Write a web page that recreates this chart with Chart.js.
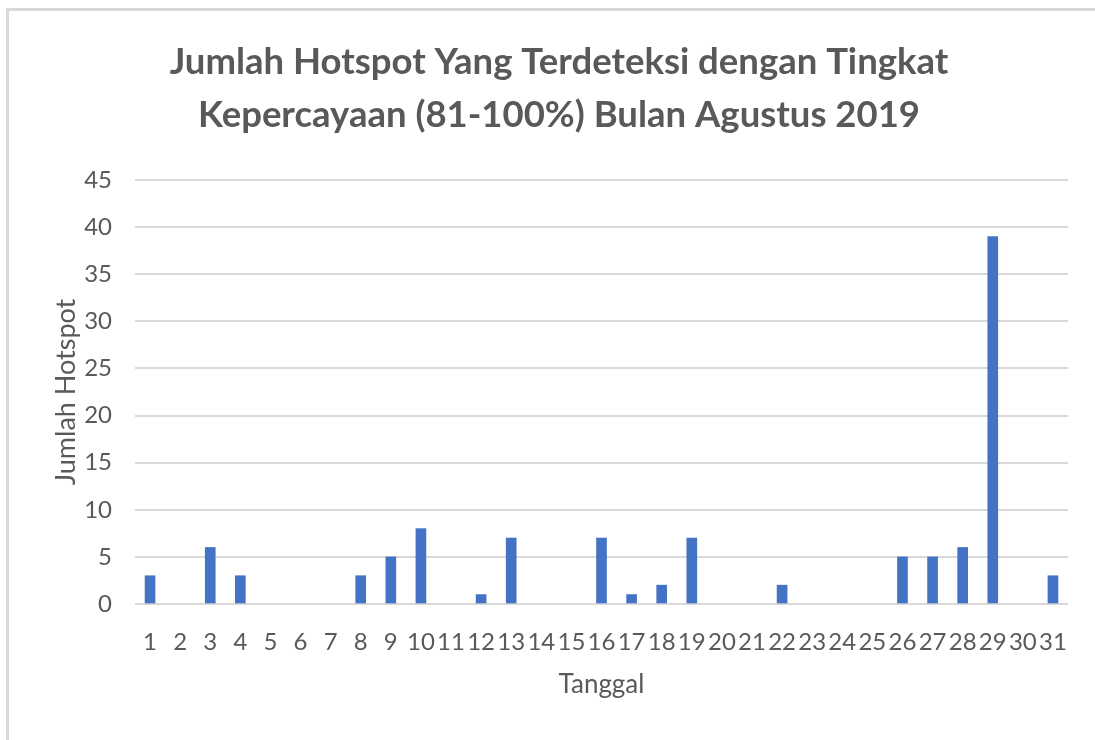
<!DOCTYPE html>
<html>
<head>
<meta charset="utf-8">
<script src="https://cdn.jsdelivr.net/npm/chart.js@4.4.1/dist/chart.umd.min.js"></script>
<style>
  html, body { margin: 0; padding: 0; background: #fff; overflow: hidden; }
  #wrap { position: relative; width: 1095px; height: 740px; }
  #frame { position: absolute; left: 6px; top: 8px; width: 1100px; height: 740px;
           border-left: 3px solid #d9d9d9; border-top: 3px solid #d9d9d9; box-sizing: border-box; }
  canvas { position: absolute; left: 0; top: 0; }
</style>
</head>
<body>
<div id="wrap">
  <div id="frame"></div>
  <canvas id="c" width="1095" height="740"></canvas>
</div>
<script>
const categories = ['1','2','3','4','5','6','7','8','9','10','11','12','13','14','15','16','17','18','19','20','21','22','23','24','25','26','27','28','29','30','31'];
const hotspotValues = [3,0,6,3,0,0,0,3,5,8,0,1,7,0,0,7,1,2,7,0,0,2,0,0,0,5,5,6,39,0,3];
const titleLines = ['Jumlah Hotspot Yang Terdeteksi dengan Tingkat', 'Kepercayaan (81-100%) Bulan Agustus 2019'];
const yAxisTitle = 'Jumlah Hotspot';
const xAxisTitle = 'Tanggal';

const grey = '#595959';
const FONT = 'Lato, "Open Sans", sans-serif';

new Chart(document.getElementById('c'), {
  type: 'bar',
  data: {
    labels: categories,
    datasets: [{
      data: hotspotValues,
      backgroundColor: (ctx) => (ctx.raw === 0 ? 'rgba(0,0,0,0)' : '#4472C4'),
      borderWidth: 0,
      barThickness: 10
    }]
  },
  options: {
    responsive: false,
    animation: false,
    devicePixelRatio: 1,
    layout: { padding: { left: 50, right: 27, top: 0, bottom: 30 } },
    plugins: {
      legend: { display: false },
      tooltip: { enabled: false },
      title: {
        display: true,
        text: titleLines,
        color: grey,
        font: { family: FONT, size: 36.5, weight: 'bold', lineHeight: 53/36.5 },
        padding: { top: 36, bottom: 38 }
      }
    },
    scales: {
      x: {
        grid: { display: false, drawTicks: false },
        border: { display: false },
        ticks: { color: grey, font: { family: FONT, size: 24 }, padding: 24, maxRotation: 0, autoSkip: false },
        title: { display: true, text: xAxisTitle, color: grey, font: { family: FONT, size: 26 }, padding: { top: 0, bottom: 10 } },
        afterFit: (s) => { s.height = 106; }
      },
      y: {
        min: 0, max: 45,
        ticks: { stepSize: 5, color: grey, font: { family: FONT, size: 24 }, padding: 23 },
        grid: { color: '#d9d9d9', lineWidth: 2, drawTicks: false },
        border: { display: false },
        title: { display: true, text: yAxisTitle, color: grey, font: { family: FONT, size: 27 }, padding: { top: 0, bottom: 0 } },
        afterFit: (s) => { s.width = 85; }
      }
    }
  }
});
</script>
</body>
</html>
